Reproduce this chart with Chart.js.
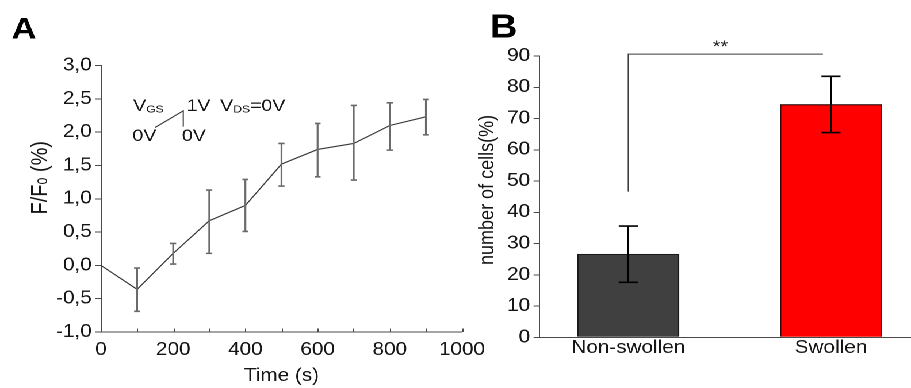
<!DOCTYPE html>
<html><head><meta charset="utf-8">
<script src="https://cdn.jsdelivr.net/npm/chart.js@4.4.1/dist/chart.umd.min.js"></script>
<style>
html,body{margin:0;padding:0;background:#fff;overflow:hidden;width:911px;height:388px}
#wrap{position:absolute;left:0;top:0;width:792px;height:388px;transform:scaleX(1.150253);transform-origin:0 0}
#wrap canvas{position:absolute;left:0;top:0}
</style></head><body>
<div id="wrap"><canvas id="a" width="792" height="388"></canvas><canvas id="b" width="792" height="388"></canvas></div>
<script>
// ---------- Panel A data ----------
const timeS     = [0, 100, 200, 300, 400, 500, 600, 700, 800, 900];
const ratio     = [0.00, -0.36, 0.18, 0.67, 0.90, 1.52, 1.74, 1.83, 2.10, 2.23];
const ratioHigh = [null, -0.04, 0.33, 1.13, 1.29, 1.83, 2.13, 2.40, 2.44, 2.49];
const ratioLow  = [null, -0.69, 0.02, 0.18, 0.51, 1.19, 1.33, 1.28, 1.73, 1.96];
const xTicksA   = [0, 200, 400, 600, 800, 1000];
const yTicksA   = [-1.0, -0.5, 0.0, 0.5, 1.0, 1.5, 2.0, 2.5, 3.0];

// ---------- Panel B data ----------
const categories = ['Non-swollen', 'Swollen'];
const cellPct    = [26.6, 74.5];
const cellErr    = [9.0, 9.0];
const yTicksB    = [0, 10, 20, 30, 40, 50, 60, 70, 80, 90];

const FONT = "'Liberation Sans', Arial, Helvetica, sans-serif";
const INK = '#161616';
const AXIS = '#4a4a4a';
Chart.defaults.font.family = FONT;
Chart.defaults.color = INK;

function drawRich(ctx, x, y, parts, size) {
  let cx = x;
  for (const [t, sub] of parts) {
    const fs = sub ? size * 0.62 : size;
    ctx.font = fs + 'px ' + FONT;
    ctx.fillText(t, cx, y + (sub ? size * 0.1 : 0));
    cx += ctx.measureText(t).width;
  }
  return cx - x;
}
function richWidth(ctx, parts, size) {
  let w = 0;
  for (const [t, sub] of parts) {
    ctx.font = (sub ? size * 0.62 : size) + 'px ' + FONT;
    w += ctx.measureText(t).width;
  }
  return w;
}

// inset annotation of panel A (data coordinates)
const insetA = {
  texts: [
    {x: 89, y: 2.32, parts: [['V', 0], ['GS', 1]]},
    {x: 237, y: 2.32, parts: [['1V', 0]]},
    {x: 330, y: 2.32, parts: [['V', 0], ['DS', 1], ['=0V', 0]]},
    {x: 87, y: 1.87, parts: [['0V', 0]]},
    {x: 224, y: 1.87, parts: [['0V', 0]]}
  ],
  path: [[149.5, 2.068], [227.9, 2.319], [227.9, 2.083]]
};

const pluginA = {
  id: 'panelA',
  afterDatasetsDraw(chart) {
    const {ctx, scales: {x, y}, chartArea} = chart;
    ctx.save();
    // error bars
    ctx.strokeStyle = '#6a6a6a';
    ctx.lineWidth = 1.6;
    for (let i = 0; i < timeS.length; i++) {
      if (ratioHigh[i] == null) continue;
      const px = x.getPixelForValue(timeS[i]);
      const hi = y.getPixelForValue(ratioHigh[i]);
      const lo = y.getPixelForValue(ratioLow[i]);
      ctx.beginPath();
      ctx.moveTo(px, hi); ctx.lineTo(px, lo);
      ctx.moveTo(px - 2.6, hi); ctx.lineTo(px + 2.6, hi);
      ctx.moveTo(px - 2.6, lo); ctx.lineTo(px + 2.6, lo);
      ctx.stroke();
    }
    // inward x ticks (major + minor)
    ctx.strokeStyle = AXIS;
    ctx.lineWidth = 1;
    const b = chartArea.bottom;
    const vals = [];
    for (let i = 0; i < xTicksA.length; i++) {
      vals.push(xTicksA[i]);
      if (i < xTicksA.length - 1) vals.push((xTicksA[i] + xTicksA[i + 1]) / 2);
    }
    ctx.beginPath();
    for (const v of vals) {
      const px = Math.round(x.getPixelForValue(v)) + 0.5;
      ctx.moveTo(px, b); ctx.lineTo(px, b - 3.5);
    }
    ctx.stroke();
    // inset
    ctx.strokeStyle = '#333';
    ctx.lineWidth = 1;
    ctx.beginPath();
    insetA.path.forEach((p, k) => {
      const px = x.getPixelForValue(p[0]), py = y.getPixelForValue(p[1]);
      k ? ctx.lineTo(px, py) : ctx.moveTo(px, py);
    });
    ctx.stroke();
    ctx.fillStyle = INK;
    ctx.textBaseline = 'alphabetic';
    ctx.textAlign = 'left';
    for (const t of insetA.texts) {
      drawRich(ctx, x.getPixelForValue(t.x), y.getPixelForValue(t.y), t.parts, 17);
    }
    // y axis title
    const parts = [['F/F', 0], ['0', 1], [' (%)', 0]];
    const size = 20;
    const w = richWidth(ctx, parts, size);
    ctx.translate(35.5, (chartArea.top + chartArea.bottom) / 2 - 21);
    ctx.rotate(-Math.PI / 2);
    ctx.textBaseline = 'middle';
    drawRich(ctx, -w / 2, 0, parts, size);
    ctx.restore();
    // panel letter
    ctx.save();
    ctx.fillStyle = '#000';
    ctx.font = 'bold 30px ' + FONT;
    ctx.textBaseline = 'alphabetic';
    ctx.fillText('A', 10, 38.3);
    ctx.restore();
  }
};

new Chart(document.getElementById('a'), {
  type: 'line',
  data: {
    datasets: [{
      data: timeS.map((t, i) => ({x: t, y: ratio[i]})),
      borderColor: '#3a3a3a', borderWidth: 1.1,
      pointRadius: 0, tension: 0, fill: false
    }]
  },
  options: {
    responsive: false, animation: false, devicePixelRatio: 2,
    layout: {padding: {left: 27.81, right: 792 - 401.65, top: 65.5, bottom: 0}},
    plugins: {legend: {display: false}, tooltip: {enabled: false}},
    scales: {
      x: {
        type: 'linear', min: 0, max: 1000, offset: false,
        afterBuildTicks: s => { s.ticks = xTicksA.map(v => ({value: v})); },
        grid: {display: false, drawTicks: false},
        border: {display: true, color: AXIS, width: 1},
        ticks: {font: {size: 18}, padding: 7, maxRotation: 0, autoSkip: false, color: INK,
                callback: v => String(v)},
        title: {display: true, text: 'Time (s)', font: {size: 18}, color: INK, padding: {top: 0, bottom: 1}},
        afterFit: s => { s.height = 56; }
      },
      y: {
        type: 'linear', min: -1, max: 3,
        afterBuildTicks: s => { s.ticks = yTicksA.map(v => ({value: v})); },
        grid: {drawOnChartArea: false, drawTicks: true, tickLength: 5, color: AXIS},
        border: {display: true, color: AXIS, width: 1},
        ticks: {font: {size: 18}, padding: 3, color: INK,
                callback: v => Number(v).toFixed(1).replace('.', ',')},
        afterFit: s => { s.width = 60; }
      }
    }
  },
  plugins: [pluginA]
});

// significance annotation for panel B (data coordinates)
const sigB = {from: 1, to: 1.96, base: 46.6, top: 90.6, label: '**', labelX: 1.455, labelY: 91.3};

const pluginB = {
  id: 'panelB',
  afterDatasetsDraw(chart) {
    const {ctx, scales: {x, y}, chartArea} = chart;
    ctx.save();
    ctx.strokeStyle = '#000';
    ctx.lineWidth = 1.6;
    for (let i = 0; i < categories.length; i++) {
      const px = x.getPixelForValue(i + 1);
      const hi = y.getPixelForValue(cellPct[i] + cellErr[i]);
      const lo = y.getPixelForValue(cellPct[i] - cellErr[i]);
      ctx.beginPath();
      ctx.moveTo(px, hi); ctx.lineTo(px, lo);
      ctx.moveTo(px - 8.3, hi); ctx.lineTo(px + 8.3, hi);
      ctx.moveTo(px - 8.3, lo); ctx.lineTo(px + 8.3, lo);
      ctx.stroke();
    }
    // bracket
    ctx.strokeStyle = '#3a3a3a';
    ctx.lineWidth = 1;
    ctx.beginPath();
    ctx.moveTo(x.getPixelForValue(sigB.from), y.getPixelForValue(sigB.base));
    ctx.lineTo(x.getPixelForValue(sigB.from), y.getPixelForValue(sigB.top));
    ctx.lineTo(x.getPixelForValue(sigB.to), y.getPixelForValue(sigB.top));
    ctx.stroke();
    ctx.fillStyle = '#222';
    ctx.font = '17px ' + FONT;
    ctx.textAlign = 'center';
    ctx.textBaseline = 'alphabetic';
    ctx.fillText(sigB.label, x.getPixelForValue(sigB.labelX), y.getPixelForValue(sigB.labelY));
    // y title
    ctx.save();
    ctx.translate(423.8, (chartArea.top + chartArea.bottom) / 2 - 6.7);
    ctx.rotate(-Math.PI / 2);
    ctx.fillStyle = INK;
    ctx.font = '18px ' + FONT;
    ctx.textBaseline = 'middle';
    ctx.textAlign = 'center';
    ctx.fillText('number of cells(%)', 0, 0);
    ctx.restore();
    // panel letter
    ctx.fillStyle = '#000';
    ctx.font = 'bold 33px ' + FONT;
    ctx.textAlign = 'left';
    ctx.fillText('B', 426, 37.3);
    ctx.restore();
  }
};

new Chart(document.getElementById('b'), {
  type: 'bar',
  data: {
    datasets: [{
      data: categories.map((c, i) => ({x: i + 1, y: cellPct[i]})),
      backgroundColor: ['#404040', '#ff0000'],
      borderColor: ['#1a1a1a', '#2a0a0a'],
      borderWidth: 1.2,
      barThickness: 88.2
    }]
  },
  options: {
    responsive: false, animation: false, devicePixelRatio: 2,
    layout: {padding: {left: 408.85, right: 0, top: 56, bottom: 20.7}},
    plugins: {legend: {display: false}, tooltip: {enabled: false}},
    scales: {
      x: {
        type: 'linear', min: 0.561, max: 2.3947, offset: false,
        afterBuildTicks: s => { s.ticks = categories.map((c, i) => ({value: i + 1})); },
        grid: {display: false, drawTicks: false, offset: false},
        border: {display: true, color: AXIS, width: 1},
        ticks: {font: {size: 18}, padding: 0, maxRotation: 0, autoSkip: false, color: INK,
                callback: v => categories[Math.round(v) - 1]},
        afterFit: s => { s.height = 30; }
      },
      y: {
        type: 'linear', min: 0, max: 90,
        afterBuildTicks: s => { s.ticks = yTicksB.map(v => ({value: v})); },
        grid: {drawOnChartArea: false, drawTicks: true, tickLength: 5, color: AXIS},
        border: {display: true, color: AXIS, width: 1},
        ticks: {font: {size: 18}, padding: 3, color: INK},
        afterFit: s => { s.width = 60; }
      }
    }
  },
  plugins: [pluginB]
});
</script>
</body></html>
